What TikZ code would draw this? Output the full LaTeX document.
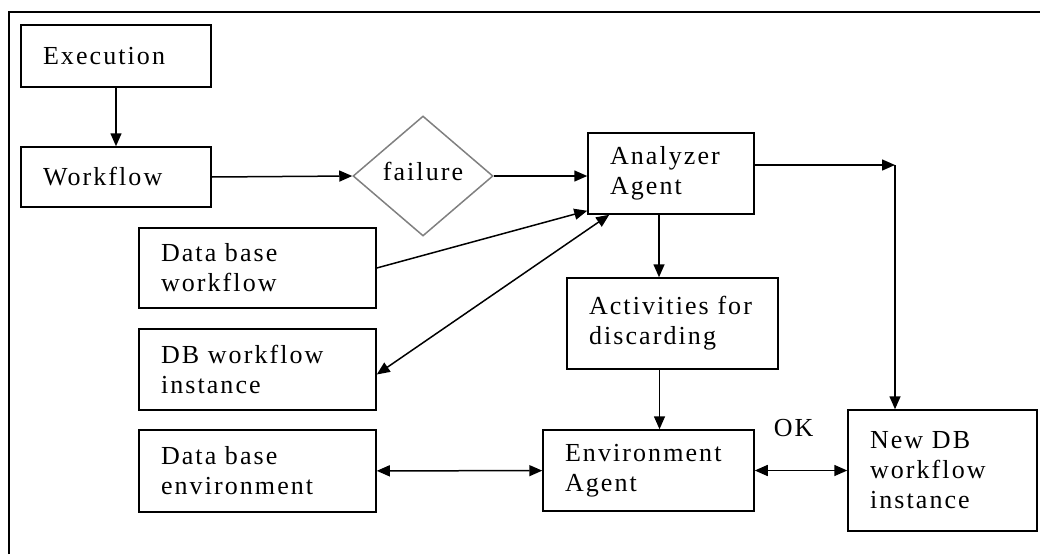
\documentclass[tikz,border=0pt]{standalone}
\usepackage{fontspec}
\setmainfont{Liberation Serif}[LetterSpace=8]
\usetikzlibrary{arrows.meta,shapes.geometric}

\begin{document}
\begin{tikzpicture}[
    x=1pt,y=-1pt,
    box/.style={rectangle,draw,line width=1.5pt,align=left,inner xsep=22pt,inner ysep=0pt,font=\fontsize{26}{30}\selectfont},
    decision/.style={diamond,draw=gray,line width=1.5pt,minimum width=140pt,minimum height=120pt,inner sep=0pt,font=\fontsize{26}{30}\selectfont},
    arrow/.style={-{Triangle[length=13pt,width=11pt]},line width=1.5pt},
    dblarrow/.style={{Triangle[length=13pt,width=11pt]}-{Triangle[length=13pt,width=11pt]},line width=1.5pt}
]
    \useasboundingbox (0,0) rectangle (1040,554);
    % frame
    \draw[line width=2.5pt] (9,554) -- (9,12) -- (1040,12);

    % left column
    \node[box,text width=146pt,minimum height=62pt] (exec) at (116,56) {Execution};
    \node[box,text width=146pt,minimum height=60pt] (wf) at (116,177) {Workflow};
    \node[box,text width=193pt,minimum height=80pt] (dbwf) at (257.5,268) {Data base\\workflow};
    \node[box,text width=193pt,minimum height=81pt] (dbinst) at (257.5,369.5) {DB workflow\\instance};
    \node[box,text width=193pt,minimum height=82pt] (dbenv) at (257.5,471) {Data base\\environment};

    % decision
    \node[decision] (fail) at (423,176) {\raisebox{9pt}{failure}};

    % agents
    \node[box,text width=122pt,minimum height=81pt] (ana) at (671,173.5) {Analyzer\\Agent};
    \node[box,text width=167pt,minimum height=91pt] (act) at (672.5,323.5) {Activities for\\discarding};
    \node[box,text width=167pt,minimum height=81pt] (env) at (648.5,470.5) {Environment\\Agent};
    \node[box,text width=145pt,minimum height=121pt] (newdb) at (942.5,470.5) {New DB\\workflow\\instance};
    \coordinate (corner) at (895,165);

    % arrows
    \draw[arrow] (exec) -- (wf);
    \draw[arrow] (wf.east) -- (fail.west);
    \draw[arrow] (fail.east) -- (fail.east -| ana.west);
    \draw[arrow] (dbwf.east) -- ([yshift=4pt]ana.south west);
    \draw[dblarrow] ([yshift=-5pt]dbinst.east) -- ([xshift=22pt]ana.south west);
    \draw[arrow] ([xshift=-12pt]ana.south) -- ([xshift=-12pt]ana.south |- act.north);
    \draw[arrow] ([xshift=-13pt]act.south) -- ([xshift=-13pt]act.south |- env.north);
    \draw[arrow] (ana.east |- corner) -- (corner);
    \draw[arrow] (corner) -- (corner |- newdb.north);
    \draw[dblarrow] (dbenv) -- (env);
    \draw[dblarrow] (env) -- node[pos=0.42,yshift=42pt,font=\fontsize{26}{30}\selectfont] {OK} (newdb);
\end{tikzpicture}
\end{document}
